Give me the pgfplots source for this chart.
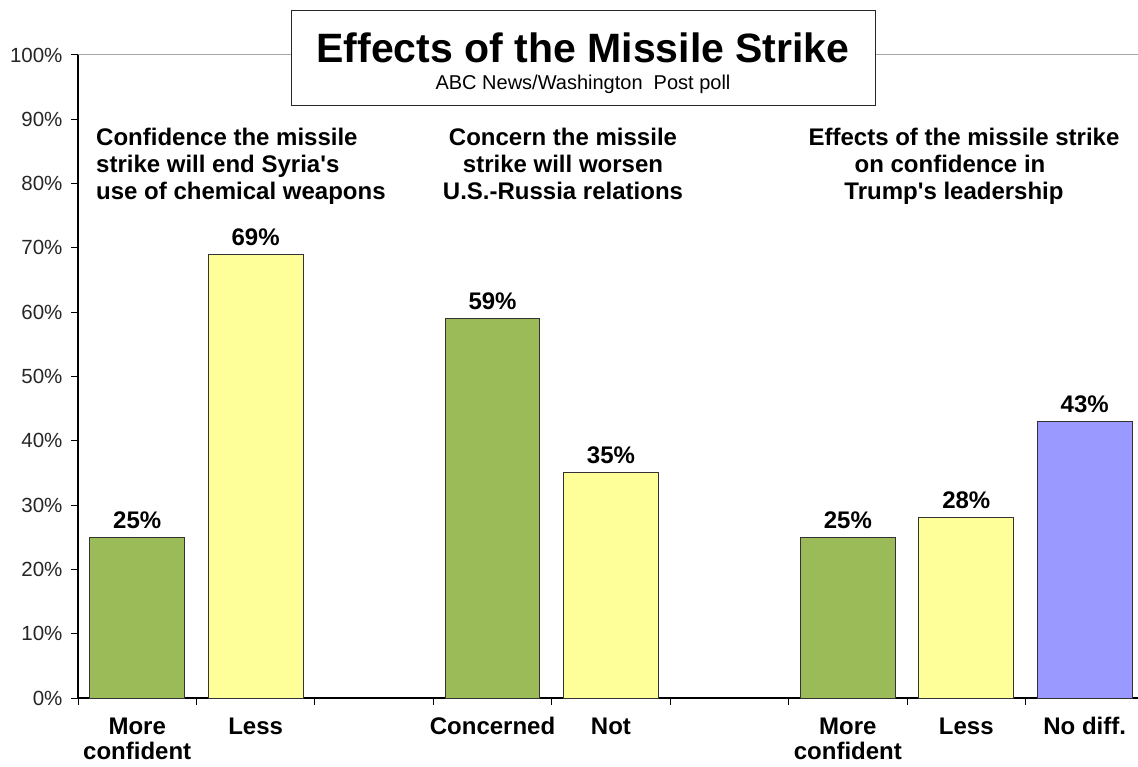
\documentclass[border=0pt]{standalone}
\usepackage{pgfplots}
\pgfplotsset{compat=1.18}
\usepackage{fontspec}
\setmainfont{Liberation Sans}[Ligatures=TeXOff]
\definecolor{bgreen}{HTML}{9BBB59}
\definecolor{byellow}{HTML}{FFFF99}
\definecolor{bblue}{HTML}{9999FF}
\begin{document}
\begin{tikzpicture}
\useasboundingbox (0,0) rectangle (1138pt,766pt);
\begin{axis}[
  at={(78pt,68pt)}, anchor=south west,
  scale only axis, width=1060pt, height=643pt,
  xmin=-0.5, xmax=8.45, ymin=0, ymax=100,
  axis x line=bottom, axis y line=left,
  axis line style={-, black, line width=1.2pt},
  ybar, bar width=0.8, bar shift=0pt,
  ytick={0,10,...,100},
  yticklabel={\pgfmathprintnumber{\tick}\%},
  yticklabel style={font=\fontsize{20.5}{24}\selectfont, color=black!85, xshift=-5pt},
  xtick={-0.5,0.5,...,8.5},
  xticklabels={},
  extra x ticks={0,1,3,4,6,7,8},
  extra x tick labels={More\\confident,Less,Concerned,Not,More\\confident,Less,No diff.},
  extra x tick style={major tick length=0pt, xticklabel style={align=center, font=\bfseries\fontsize{24}{25}\selectfont, yshift=-16pt}},
  tick align=outside, major tick length=7pt,
  tick style={black, line width=1pt},
  /pgf/number format/assume math mode=true,
  nodes near coords={\pgfmathprintnumber{\pgfplotspointmeta}\%},
  every node near coord/.append style={font=\bfseries\fontsize{24}{26}\selectfont, yshift=5pt, black},
  clip=false,
]
\draw[gray!70, line width=1pt] (axis cs:-0.5,100) -- (axis cs:8.45,100);
\addplot[fill=bgreen, draw=black!80, line width=1pt] coordinates {(0,25) (3,59) (6,25)};
\addplot[fill=byellow, draw=black!80, line width=1pt] coordinates {(1,69) (4,35) (7,28)};
\addplot[fill=bblue, draw=black!80, line width=1pt] coordinates {(8,43)};
\end{axis}
\draw[black!85, line width=1pt, fill=white] (291pt,660pt) rectangle (875pt,755pt);
\node[anchor=base, inner sep=0pt, font=\bfseries\fontsize{41}{44}\selectfont] at (583pt,703.5pt) {Effects of the Missile Strike};
\node[anchor=base, inner sep=0pt, font=\fontsize{20}{22}\selectfont] at (583pt,676pt) {ABC News/Washington\ \ Post poll};
\node[anchor=north west, inner sep=0pt, align=left, font=\bfseries\fontsize{24}{27}\selectfont] at (96pt,638pt) {Confidence the missile\\strike will end Syria's\\use of chemical weapons};
\node[anchor=north, inner sep=0pt, align=center, font=\bfseries\fontsize{24}{27}\selectfont] at (563pt,638pt) {Concern the missile\\strike will worsen\\U.S.-Russia relations};
\node[anchor=north, inner sep=0pt, align=center, font=\bfseries\fontsize{24}{27}\selectfont] at (964pt,638pt) {Effects of the missile strike\\on confidence in\rule{28pt}{0pt}\\Trump's leadership\rule{20pt}{0pt}};
\end{tikzpicture}
\end{document}
